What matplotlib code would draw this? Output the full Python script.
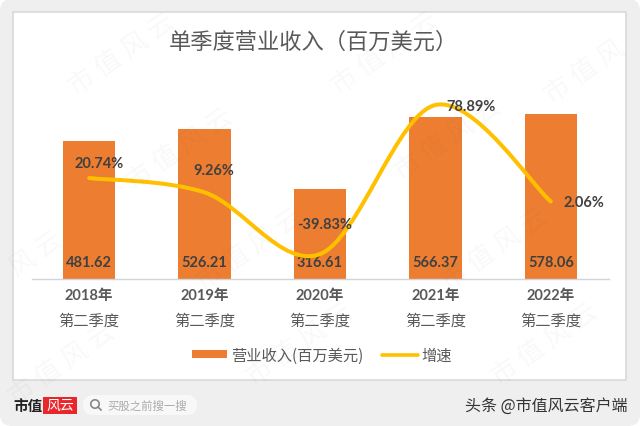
import numpy as np
import matplotlib
matplotlib.use('Agg')
import matplotlib.pyplot as plt
from matplotlib.path import Path
from matplotlib.patches import FancyBboxPatch, PathPatch, Rectangle, Circle
from matplotlib.lines import Line2D

plt.rcParams['font.family'] = ['Lato', 'Noto Sans CJK SC', 'DejaVu Sans']

years = ['2018年', '2019年', '2020年', '2021年', '2022年']
quarter = '第二季度'
revenue = [481.62, 526.21, 316.61, 566.37, 578.06]
growth = [20.74, 9.26, -39.83, 78.89, 2.06]
title = '单季度营业收入（百万美元）'

W, H = 640, 427
ORANGE = '#ed7d31'
GOLD = '#ffc000'
DARK = '#404040'
GREY = '#595959'

fig = plt.figure(figsize=(W / 100, H / 100), dpi=100, facecolor='white')

# page furniture in pixel coordinates, y down
bg = fig.add_axes([0, 0, 1, 1], zorder=0)
bg.set_xlim(0, W)
bg.set_ylim(H, 0)
bg.axis('off')
bg.add_patch(FancyBboxPatch((0, 0), W, H, boxstyle='round,pad=0,rounding_size=12',
                            fc='#efefef', ec='none'))
bg.add_patch(Rectangle((13, 13), 613, 368, fc='white', ec='#d9d9d9', lw=1.2))

bg.text(313, 42, title, ha='center', va='center', fontsize=16, color=GREY,
        family='Noto Sans CJK SC')

# main chart
ax = fig.add_axes([31.5 / W, 1 - 280 / H, 577 / W, 200 / H], zorder=1)
ax.patch.set_alpha(0)
x = np.arange(len(years))
bars = ax.bar(x, revenue, width=0.455, color=ORANGE, label='营业收入(百万美元)')
ax.set_xlim(-0.5, 4.5)
ax.set_ylim(0, 700)
ax.set_yticks([])
for s in ['top', 'left', 'right']:
    ax.spines[s].set_visible(False)
ax.spines['bottom'].set_color('#d0d5dc')
ax.spines['bottom'].set_linewidth(1)
ax.tick_params(axis='x', length=0, pad=6.5)
ax.set_xticks(x)
ax.set_xticklabels(years, fontsize=10.5, fontweight='bold', color=GREY)
for i in x:
    ax.annotate(quarter, (i, 0), xytext=(0, -29.5), textcoords='offset points',
                ha='center', va='center', fontsize=11, color=GREY,
                family='Noto Sans CJK SC', annotation_clip=False)
    ax.annotate(f'{revenue[i]:.2f}', (i, 0), xytext=(0, 12.5), textcoords='offset points',
                ha='center', va='center', fontsize=10.5, fontweight='bold', color=DARK)

# growth line, smoothed through the values the way a spreadsheet does it
ax2 = ax.twinx()
ax2.set_ylim(-59.7, 99.6)
ax2.set_yticks([])
for s in ax2.spines.values():
    s.set_visible(False)

pts = np.column_stack([x, growth])
verts = [pts[0]]
codes = [Path.MOVETO]
for i in range(len(pts) - 1):
    p0 = pts[max(i - 1, 0)]
    p1 = pts[i]
    p2 = pts[i + 1]
    p3 = pts[min(i + 2, len(pts) - 1)]
    verts += [p1 + (p2 - p0) / 6, p2 - (p3 - p1) / 6, p2]
    codes += [Path.CURVE4] * 3
ax2.add_patch(PathPatch(Path(verts, codes), fc='none', ec=GOLD, lw=2.9, capstyle='round'))

offsets = [(7.5, 10.5), (6.5, 16), (3.5, 21.5), (25.5, -0.5), (24, -0.5)]
for i in x:
    ax2.annotate(f'{growth[i]:.2f}%', (i, growth[i]), xytext=offsets[i],
                 textcoords='offset points', ha='center', va='center',
                 fontsize=10.5, fontweight='bold', color=DARK)

handles = [Rectangle((0, 0), 1, 1, fc=ORANGE, ec='none'),
           Line2D([0], [0], color=GOLD, lw=2.6, solid_capstyle='round')]
fig.legend(handles, ['营业收入(百万美元)', '增速'], ncol=2, frameon=False,
           loc='center', bbox_to_anchor=(322 / W, 1 - 356 / H),
           prop={'family': 'Noto Sans CJK SC', 'size': 11}, labelcolor=GREY,
           handlelength=2.3, handleheight=0.5, handletextpad=0.25, columnspacing=1.25)

# watermark + footer on top
fg = fig.add_axes([0, 0, 1, 1], zorder=3)
fg.set_xlim(0, W)
fg.set_ylim(H, 0)
fg.axis('off')
fg.patch.set_alpha(0)
marks = [(122, 55, '市 值 风 云'), (385, 54, '市 值 风 云'), (448, 140, '市 值 风 云'),
         (180, 150, '市 值 风 云'), (250, 250, '市 值 风 云'), (495, 250, '市 值 风 云'),
         (300, 345, '市 值 风 云'), (545, 345, '市 值 风 云'), (62, 365, '市 值 风 云'),
         (585, 72, '市 值 风'), (36, 255, '风 云')]
for mx, my, word in marks:
    fg.text(mx, my, word, rotation=35, ha='center', va='center', fontsize=19,
            color='#555555', alpha=0.04, family='Noto Sans CJK SC')

fg.text(28, 406, '市值', ha='center', va='center', fontsize=10.5, fontweight='bold',
        color='#222222', family='Noto Sans CJK SC')
fg.add_patch(Rectangle((43, 398), 34, 17, fc='#e8262c', ec='none'))
fg.text(60, 406, '风云', ha='center', va='center', fontsize=10, style='italic',
        color='white', family='Noto Sans CJK SC')
fg.add_patch(FancyBboxPatch((83, 396), 114, 20, boxstyle='round,pad=0,rounding_size=10',
                            fc='#f8f8f8', ec='none'))
fg.add_patch(Circle((95, 405), 4.2, fc='none', ec='#888888', lw=1.2))
fg.plot([98, 101], [408, 411], color='#888888', lw=1.2)
fg.text(147, 406, '买股之前搜一搜', ha='center', va='center', fontsize=8.2, color='#aaaaaa',
        family='Noto Sans CJK SC')
fg.text(628, 406, '头条 @市值风云客户端', ha='right', va='center', fontsize=11.5,
        color='#333333', family='Noto Sans CJK SC')

fig.savefig('out.png', dpi=100, facecolor='white')
